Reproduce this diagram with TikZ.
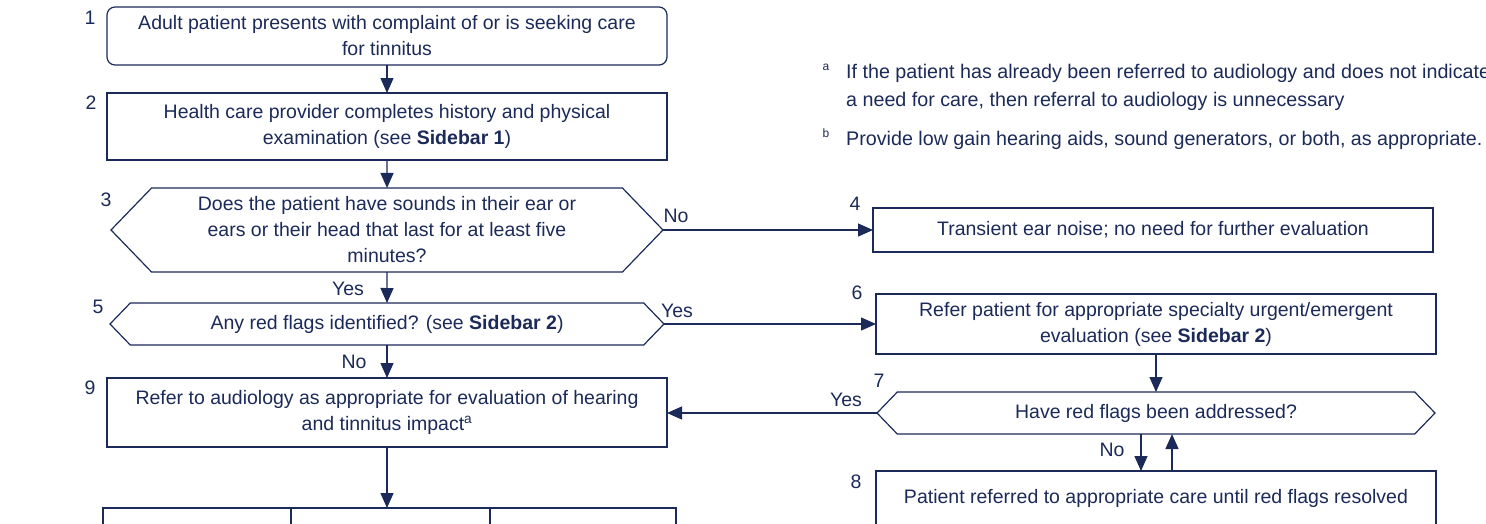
\documentclass[tikz,border=0pt]{standalone}
\usepackage{fontspec}
\setmainfont{Liberation Sans}
\usetikzlibrary{arrows.meta,positioning,shapes.symbols,calc}
\definecolor{flownavy}{RGB}{27,42,88}
\tikzset{
  flowfont/.style={font=\fontsize{19.5}{26}\selectfont, text=flownavy},
  flowstart/.style={rectangle, rounded corners=8pt, draw=flownavy, line width=1.2pt, outer sep=0pt, flowfont, align=center, minimum width=560pt, minimum height=58pt},
  flowproc/.style={rectangle, draw=flownavy, line width=1.2pt, outer sep=0pt, flowfont, align=center, minimum width=560pt},
  flowdec/.style={signal, signal to=west and east, signal pointer angle=92, draw=flownavy, line width=1.2pt, outer sep=0pt, flowfont, align=center},
  flowarrow/.style={-{Triangle[length=15pt,width=13pt]}, line width=1.2pt, draw=flownavy},
  flownum/.style={flowfont, inner sep=0pt},
  flowtag/.style={flowfont, inner sep=0pt},
  flownote/.style={font=\fontsize{19.7}{26}\selectfont, text=flownavy, inner sep=0pt, anchor=base west},
  flowsup/.style={font=\fontsize{12}{14}\selectfont, text=flownavy, inner sep=0pt}
}
\begin{document}
\begin{tikzpicture}[x=1pt, y=-1pt, node distance=28pt]
\path[use as bounding box, clip] (0,0) rectangle (1486,523);
% left column
\node[flowstart] (start) at (387,36) {Adult patient presents with complaint of or is seeking care\\for tinnitus};
\node[flowproc, minimum height=67pt, below=28pt of start] (history) {Health care provider completes history and physical\\examination (see \textbf{Sidebar 1})};
\node[flowdec, minimum width=552pt, minimum height=84pt, below=28pt of history] (sounds) {Does the patient have sounds in their ear or\\ears or their head that last for at least five\\minutes?};
\node[flowdec, minimum width=554pt, minimum height=42pt, below=31pt of sounds] (redflags) {Any red flags identified? (see \textbf{Sidebar 2})};
\node[flowproc, minimum height=69pt, below=33pt of redflags] (audiology) {Refer to audiology as appropriate for evaluation of hearing\\and tinnitus impact\textsuperscript{a}};
\node[flowproc, minimum width=188pt, minimum height=60pt, anchor=north west] (outcomeA) at (103,508) {};
\node[flowproc, minimum width=199pt, minimum height=60pt, anchor=north west] (outcomeB) at (291,508) {};
\node[flowproc, minimum width=186pt, minimum height=60pt, anchor=north west] (outcomeC) at (490,508) {};
% right column
\node[flowproc, minimum height=44pt, right=210pt of sounds] (transient) {Transient ear noise; no need for further evaluation};
\node[flowproc, minimum height=60pt, right=212pt of redflags] (specialty) {Refer patient for appropriate specialty urgent/emergent\\evaluation (see \textbf{Sidebar 2})};
\node[flowdec, minimum width=558pt, minimum height=42pt, below=38pt of specialty] (addressed) {Have red flags been addressed?};
\node[flowproc, minimum height=54pt, below=37pt of addressed] (resolved) {Patient referred to appropriate care until red flags resolved};
% step numbers
\node[flownum] (num1) at ($(start.north west)+(-17,11)$) {1};
\node[flownum] (num2) at ($(history.north west)+(-16,10)$) {2};
\node[flownum] (num3) at ($(sounds.west)+(-5,-30)$) {3};
\node[flownum] (num4) at ($(transient.north west)+(-18,-4)$) {4};
\node[flownum] (num5) at ($(redflags.west)+(-12,-17)$) {5};
\node[flownum] (num6) at ($(specialty.north west)+(-19,-1)$) {6};
\node[flownum] (num7) at ($(addressed.west)+(2,-32)$) {7};
\node[flownum] (num8) at ($(resolved.north west)+(-20,11)$) {8};
\node[flownum] (num9) at ($(audiology.north west)+(-17,10)$) {9};
% answers
\node[flowtag] (tagno3) at ($(sounds.east)+(13,-14)$) {No};
\node[flowtag] (tagyes3) at ($(sounds.south)+(-39,17)$) {Yes};
\node[flowtag] (tagyes5) at ($(redflags.east)+(13,-13)$) {Yes};
\node[flowtag] (tagno5) at ($(redflags.south)+(-33,17)$) {No};
\node[flowtag] (tagyes7) at ($(addressed.west)+(-31,-13)$) {Yes};
\node[flowtag] (tagno7) at ($(addressed.south)+(-44,16)$) {No};
% connectors
\draw[flowarrow] (start) -- (history);
\draw[flowarrow] (history) -- (sounds);
\draw[flowarrow] (sounds.east) -- (sounds.east -| transient.west);
\draw[flowarrow] (sounds) -- (redflags);
\draw[flowarrow] (redflags.east) -- (redflags.east -| specialty.west);
\draw[flowarrow] (redflags) -- (audiology);
\draw[flowarrow] (specialty) -- (addressed);
\draw[flowarrow] (addressed.west) -- (addressed.west -| audiology.east);
\draw[flowarrow] ([xshift=-15pt]addressed.south) -- ([xshift=-15pt]addressed.south |- resolved.north);
\draw[flowarrow] ([xshift=16pt]resolved.north) -- ([xshift=16pt]resolved.north |- addressed.south);
\draw[flowarrow] (audiology) -- (audiology.south |- outcomeB.north);
% footnotes
\node[flowsup] (supa) at (826,67) {a};
\node[flownote] (notea) at (846,78) {If the patient has already been referred to audiology and does not indicate};
\node[flownote] (noteb) at (846,106) {a need for care, then referral to audiology is unnecessary};
\node[flowsup] (supb) at (826,133) {b};
\node[flownote] (notec) at (846,145) {Provide low gain hearing aids, sound generators, or both, as appropriate.};
\end{tikzpicture}
\end{document}
